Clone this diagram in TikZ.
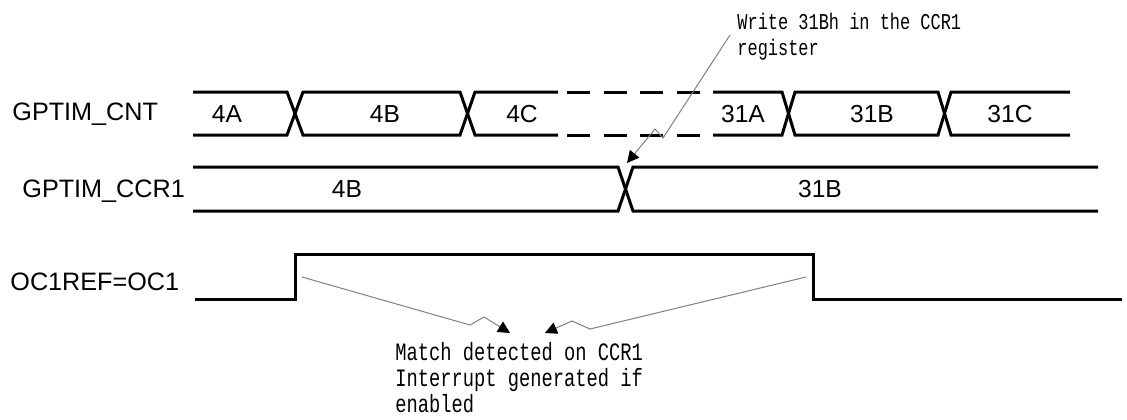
\documentclass[tikz,border=0pt]{standalone}
\usepackage{fontspec}
\setmainfont{Liberation Sans}
\newfontfamily\monof[FakeStretch=0.75]{Liberation Mono}
\usetikzlibrary{arrows.meta}
\definecolor{callout}{RGB}{128,128,128}
\tikzset{
  sig/.style={line width=1.5pt, line join=miter},
  dashsig/.style={sig, dash pattern=on 11.5pt off 6.8pt},
  siglabel/.style={inner sep=0pt, font=\fontsize{12.6}{14}\selectfont, anchor=base west},
  val/.style={inner sep=0pt, font=\fontsize{12.3}{14}\selectfont},
  note/.style={inner sep=0pt, anchor=base west, align=left, font=\monof\fontsize{11.3}{13}\selectfont},
  bignote/.style={note, font=\monof\fontsize{12.5}{13}\selectfont},
  pointer/.style={draw=callout, line width=0.5pt, -{Triangle[length=6pt,width=6pt,fill=black,color=black]}}
}
\begin{document}
\begin{tikzpicture}[x=0.5pt,y=-0.5pt]
\useasboundingbox (0,0) rectangle (1127,419);
% signal names
\node[siglabel] (lcnt) at (12,120) {GPTIM\_CNT};
\node[siglabel] (lccr) at (22,197) {GPTIM\_CCR1};
\node[siglabel] (loc) at (10,290) {OC1REF=OC1};
% GPTIM_CNT bus
\draw[sig] (193,92)--(287,92)--(303,135)--(460,135)--(475,92)--(558,92);
\draw[sig] (193,135)--(287,135)--(303,92)--(460,92)--(475,135)--(558,135);
\draw[dashsig] (567,92)--(701,92);
\draw[dashsig] (567,135)--(701,135);
\draw[sig] (713,92)--(782,92)--(795,135)--(938,135)--(951,92)--(1070,92);
\draw[sig] (713,135)--(782,135)--(795,92)--(938,92)--(951,135)--(1070,135);
\node[val] (v4a) at (227,114) {4A};
\node[val] (v4b) at (385,114) {4B};
\node[val] (v4c) at (522,114) {4C};
\node[val] (v31a) at (743,114) {31A};
\node[val] (v31b) at (872,114) {31B};
\node[val] (v31c) at (1010,114) {31C};
% GPTIM_CCR1 bus
\draw[sig] (193,167)--(618,167)--(633,211)--(1098,211);
\draw[sig] (193,211)--(618,211)--(633,167)--(1098,167);
\node[val] (c4b) at (347,189) {4B};
\node[val] (c31b) at (820,189) {31B};
% OC1REF
\draw[sig] (195,299)--(295,299)--(295,254)--(813,254)--(813,299)--(1122,299);
% notes (base anchor = baseline of last line)
\node[note] (wnote) at (737,55) {Write 31Bh in the CCR1\\register};
\node[bignote] (mnote) at (395,412) {Match detected on CCR1\\Interrupt generated if\\enabled};
% pointers
\coordinate (wfrom) at (730,35);
\coordinate (wtip) at (627,163);
\coordinate (lfrom) at (302,277);
\coordinate (ltip) at (510,333);
\coordinate (rfrom) at (806,277);
\coordinate (rtip) at (545,333);
\draw[pointer] (wfrom)--(663,138)--(655,129)--(wtip);
\draw[pointer] (lfrom)--(470,325)--(484,317)--(ltip);
\draw[pointer] (rfrom)--(590,329)--(572,321)--(rtip);
\end{tikzpicture}
\end{document}
